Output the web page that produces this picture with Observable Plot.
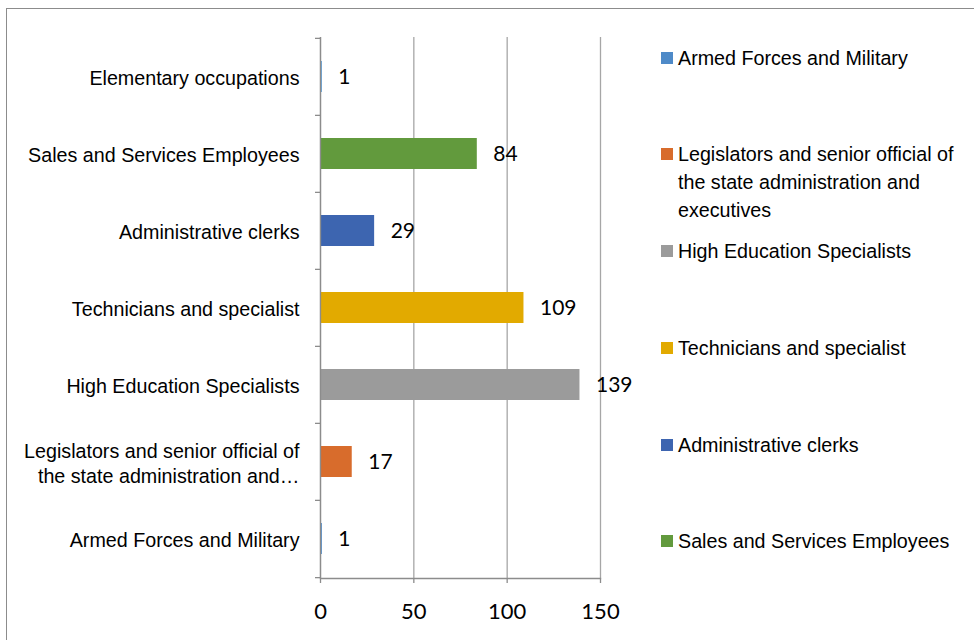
<!DOCTYPE html>
<html>
<head>
<meta charset="utf-8">
<script src="https://cdn.jsdelivr.net/npm/d3@7"></script>
<script src="https://cdn.jsdelivr.net/npm/@observablehq/plot@0.6"></script>
<style>
  html, body { margin: 0; padding: 0; background: #fff; }
  #wrap { position: relative; width: 974px; height: 640px; overflow: hidden; }
  #border { position: absolute; left: 6px; top: 8px; width: 1000px; height: 700px; border: 1px solid #8c8c8c; box-sizing: border-box; pointer-events: none; }
  #legend { position: absolute; left: 661px; top: 0; width: 313px; font-family: "Liberation Sans", Arial, sans-serif; font-size: 19.7px; color: #000; }
  .item { position: absolute; left: 0; width: 313px; height: 90px; }
  .sw { position: absolute; left: 0; top: 0; width: 12px; height: 12px; }
  .lt { position: absolute; left: 17px; top: -8px; line-height: 28px; width: 288px; }
  #chart { position: absolute; left: 0; top: 0; }
</style>
</head>
<body>
<div id="wrap">
  <div id="chart"></div>
  <div id="legend"></div>
  <div id="border"></div>
</div>
<script>
// Categories top-to-bottom as displayed
const categories = [
  "Elementary occupations",
  "Sales and Services Employees",
  "Administrative clerks",
  "Technicians and specialist",
  "High Education Specialists",
  "Legislators and senior official of the state administration and executives",
  "Armed Forces and Military"
];
const values = [1, 84, 29, 109, 139, 17, 1];
const colors = ["#5B9BD5", "#629A3D", "#3D65B0", "#E2AA00", "#9B9B9B", "#D86C2C", "#4E8AC8"];
const axisLabels = {
  "Legislators and senior official of the state administration and executives":
    "Legislators and senior official of\nthe state administration and\u2026"
};
const xTicks = [0, 50, 100, 150];

// Legend (order as in reference)
const legendItems = [
  "Armed Forces and Military",
  "Legislators and senior official of the state administration and executives",
  "High Education Specialists",
  "Technicians and specialist",
  "Administrative clerks",
  "Sales and Services Employees"
];
const legendTop = [52, 148, 245, 342, 439, 535];

const data = categories.map((c, i) => ({category: c, value: values[i], color: colors[i]}));

const W = 974, H = 640, mL = 320, mR = 374, mT = 37, mB = 62;
const step = (H - mT - mB) / categories.length;
const tickLen = 5 * 150 / (W - mL - mR);
const fontCat = '"Liberation Sans", Arial, sans-serif';
const fontNum = 'Lato, "Open Sans", sans-serif';

const chart = Plot.plot({
  width: W,
  height: H,
  marginLeft: mL,
  marginRight: mR,
  marginTop: mT,
  marginBottom: mB,
  style: {background: "transparent", overflow: "visible"},
  x: {domain: [0, 150], axis: null, label: null},
  y: {domain: categories, paddingInner: 0.6, paddingOuter: 0.3, axis: null, label: null},
  marks: [
    Plot.ruleX(xTicks, {stroke: "#a6a6a6", strokeWidth: 1.3}),
    Plot.barX(data, {x: "value", y: "category", fill: "color"}),
    Plot.ruleX([0], {stroke: "#8c8c8c", strokeWidth: 1.3}),
    Plot.frame({anchor: "bottom", stroke: "#8c8c8c", strokeWidth: 1.3}),
    // band boundary ticks on the category axis
    Plot.ruleY(categories, {y: d => d, x1: -tickLen, x2: 0, dy: -step / 2, stroke: "#8c8c8c", strokeWidth: 1.3}),
    Plot.ruleY([categories[categories.length - 1]], {y: d => d, x1: -tickLen, x2: 0, dy: step / 2, stroke: "#8c8c8c", strokeWidth: 1.3}),
    Plot.axisX({ticks: xTicks, tickSize: 5, tickPadding: 20, fontSize: 22, fontFamily: fontNum, stroke: "#8c8c8c", strokeWidth: 1.3, fill: "#000", label: null}),
    Plot.axisY({tickSize: 0, tickPadding: 21, fontSize: 19.7, fontFamily: fontCat, fill: "#000", lineHeight: 1.27, label: null,
      tickFormat: d => axisLabels[d] || d}),
    Plot.text(data, {x: "value", y: "category", text: d => String(d.value), dx: 16, textAnchor: "start", fontSize: 21, fontFamily: fontNum, fill: "#000"})
  ]
});
document.getElementById("chart").appendChild(chart);

const colorOf = Object.fromEntries(categories.map((c, i) => [c, colors[i]]));
const legend = document.getElementById("legend");
legendItems.forEach((name, i) => {
  const it = document.createElement("div");
  it.className = "item";
  it.style.top = legendTop[i] + "px";
  const sw = document.createElement("div");
  sw.className = "sw";
  sw.style.background = colorOf[name];
  const lt = document.createElement("div");
  lt.className = "lt";
  lt.textContent = name;
  it.appendChild(sw);
  it.appendChild(lt);
  legend.appendChild(it);
});
</script>
</body>
</html>
